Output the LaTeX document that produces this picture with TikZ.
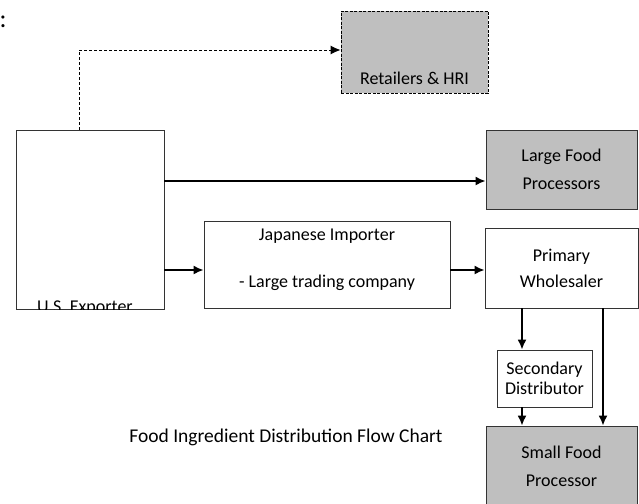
\documentclass[tikz,border=0pt]{standalone}
\usepackage{fontspec}
\setmainfont{Carlito}
\usetikzlibrary{arrows.meta, positioning, calc}
\tikzstyle{process} = [rectangle, text centered, align=center, draw=black!80, line width=0.8pt, fill=white, inner sep=0pt]
\tikzstyle{buyer} = [rectangle, text centered, align=center, draw=black!80, line width=0.8pt, fill=black!25, inner sep=0pt, minimum width=151pt]
\tikzstyle{dashbox} = [rectangle, text centered, draw=black, line width=0.9pt, dash pattern=on 3pt off 1.5pt, fill=black!25, inner sep=0pt, minimum width=147pt]
\tikzstyle{arrow} = [line width=1.8pt, -{Latex[length=10pt,width=9pt]}]
\tikzstyle{dasharrow} = [line width=0.9pt, dash pattern=on 3pt off 2pt, -{Latex[length=10pt,width=9pt]}]

\begin{document}
\begin{tikzpicture}[x=1pt, y=-1pt, font=\fontsize{18}{28}\selectfont]
    \useasboundingbox (0,0) rectangle (639,503);
    \node (colon) [anchor=base west, inner sep=0pt, font=\fontsize{26}{30}\selectfont] at (-0.5,28) {:};
    \node (retail) [dashbox, text height=73pt, text depth=9pt] at (414.5,52) {Retailers \& HRI};
    \node (exporter) [process, minimum width=148pt, minimum height=179pt] at (90,219.5) {};
    \begin{scope}
        \clip (exporter.north west) rectangle (exporter.south east);
        \node (exportername) [anchor=base, inner sep=0pt] at (85,312) {U.S. Exporter};
    \end{scope}
    \node (large) [buyer, minimum height=79pt] at (561.5,169.5) {Large Food\\Processors};
    \node (importer) [process, minimum width=246pt, text height=66pt, text depth=21pt] at (327,264.5) {Japanese Importer\\[19pt]- Large trading company};
    \node (primary) [process, minimum width=153pt, minimum height=80pt] at (561.5,268) {Primary\\[-2pt]Wholesaler};
    \node (secondary) [process, minimum width=95pt, minimum height=57pt] at (544.5,378.5) {Secondary\\[-8pt]Distributor};
    \node (small) [buyer, minimum height=80pt] at (561.5,466) {Small Food\\Processor};
    \node (title) [font=\fontsize{19.5}{24}\selectfont] at (286,437) {Food Ingredient Distribution Flow Chart};

    \draw [dasharrow] (exporter.north -| 79,0) |- (retail.west |- 0,50);
    \draw [arrow] (exporter.east |- 0,181) -- (large.west |- 0,181);
    \draw [arrow] (exporter.east |- 0,270) -- (importer.west |- 0,270);
    \draw [arrow] (importer.east |- 0,270) -- (primary.west |- 0,270);
    \draw [arrow] (primary.south -| 522,0) -- (secondary.north -| 522,0);
    \draw [arrow] (primary.south -| 603,0) -- (small.north -| 603,0);
    \draw [arrow] (secondary.south -| 522,0) -- (small.north -| 522,0);
\end{tikzpicture}
\end{document}
